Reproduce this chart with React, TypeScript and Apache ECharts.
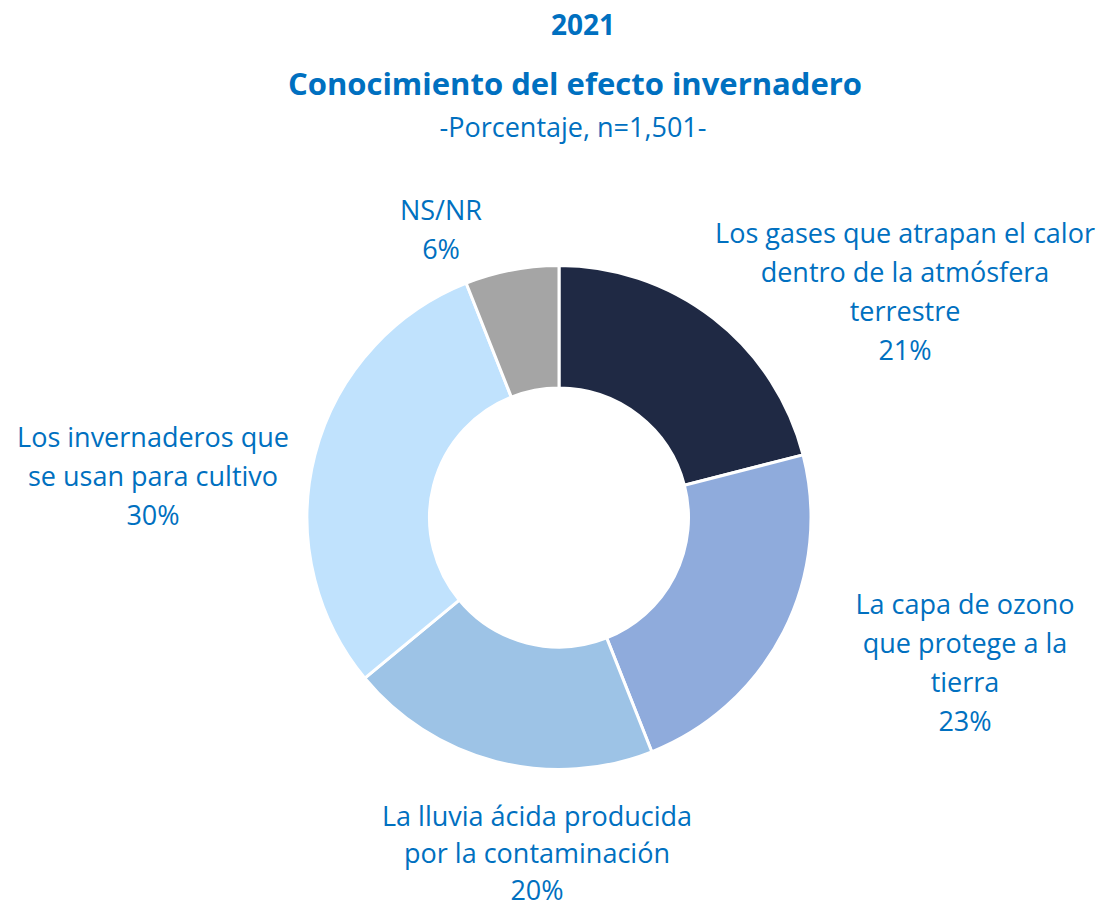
import React, { useEffect, useRef } from "react";
import * as echarts from "echarts";

const categories = [
  "Los gases que atrapan el calor\ndentro de la atmósfera\nterrestre",
  "La capa de ozono\nque protege a la\ntierra",
  "La lluvia ácida producida\npor la contaminación",
  "Los invernaderos que\nse usan para cultivo",
  "NS/NR",
];
const values = [21, 23, 20, 30, 6];
const colors = ["#1F2944", "#8FABDC", "#9DC3E6", "#C0E2FD", "#A5A5A5"];
const labelPos = [
  [905, 291],
  [965, 662],
  [537, 852],
  [153, 475],
  [441, 229],
];

const FONT = "'Open Sans', 'Noto Sans', sans-serif";
const BLUE = "#0070C0";

export default function App() {
  const ref = useRef<HTMLDivElement>(null);
  useEffect(() => {
    const chart = echarts.init(ref.current!, null, { renderer: "svg" });
    chart.setOption({
      animation: false,
      backgroundColor: "#ffffff",
      title: [
        {
          text: "2021",
          left: 578,
          top: 5,
          textAlign: "center",
          textStyle: { fontFamily: FONT, fontSize: 28, fontWeight: "bold", color: BLUE },
        },
        {
          text: "Conocimiento del efecto invernadero",
          left: 570,
          top: 62,
          textAlign: "center",
          textStyle: { fontFamily: FONT, fontSize: 31, fontWeight: "bold", color: BLUE },
        },
        {
          text: "-Porcentaje, n=1,501-",
          left: 568,
          top: 108,
          textAlign: "center",
          textStyle: { fontFamily: FONT, fontSize: 27, fontWeight: "normal", color: BLUE },
        },
      ],
      series: [
        {
          type: "pie",
          center: [559, 517.5],
          radius: [129.5, 252],
          startAngle: 90,
          clockwise: true,
          avoidLabelOverlap: false,
          itemStyle: { borderColor: "#ffffff", borderWidth: 3 },
          label: {
            show: true,
            formatter: "{b}\n{c}%",
            fontFamily: FONT,
            fontSize: 27,
            lineHeight: 39,
            color: BLUE,
            align: "center",
          },
          labelLine: { show: false },
          labelLayout: (p: any) => ({
            x: labelPos[p.dataIndex][0],
            y: labelPos[p.dataIndex][1],
            align: "center",
            verticalAlign: "middle",
          }),
          data: categories.map((c, i) => ({
            name: c,
            value: values[i],
            itemStyle: { color: colors[i] },
            label: i === 2 ? { lineHeight: 37 } : undefined,
          })),
        },
      ],
    });
    return () => chart.dispose();
  }, []);
  return (
    <div
      ref={ref}
      style={{ position: "fixed", left: 0, top: 0, width: 1104, height: 906 }}
    />
  );
}
